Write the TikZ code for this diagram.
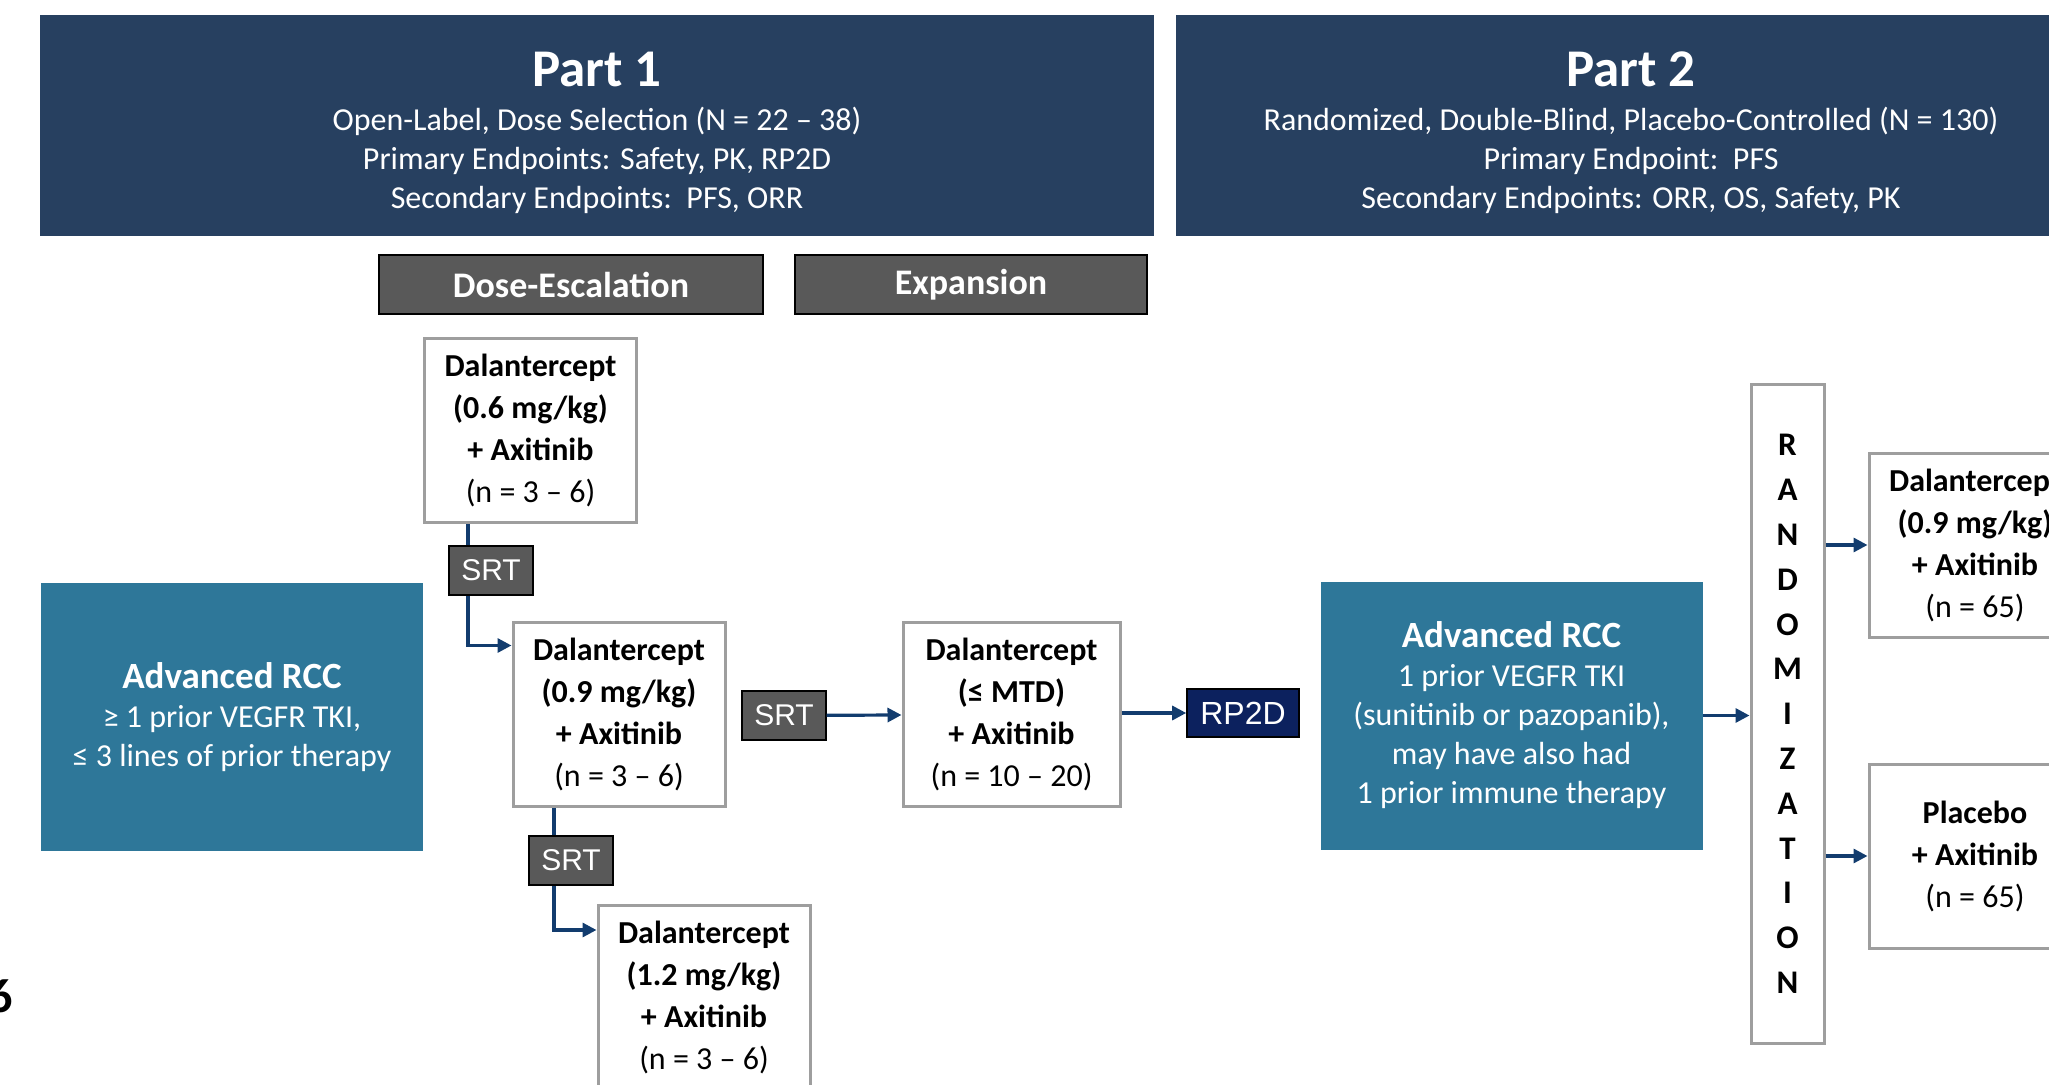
\documentclass[tikz,border=0pt]{standalone}
\usepackage{fontspec}
\setmainfont{Carlito}
\newfontfamily\arialfont{Liberation Sans}
\usetikzlibrary{positioning, arrows.meta, calc, backgrounds}

\definecolor{partblue}{HTML}{274060}
\definecolor{rccteal}{HTML}{2E7799}
\definecolor{srtgray}{HTML}{595959}
\definecolor{rpnavy}{HTML}{0C215E}
\definecolor{flowblue}{HTML}{123C6E}
\definecolor{boxgray}{HTML}{9E9E9E}

\begin{document}
\begin{tikzpicture}[x=0.5pt, y=-0.5pt,
  part/.style={fill=partblue, minimum height=110.5pt, inner sep=0pt},
  parttitle/.style={text=white, font=\fontsize{26.5}{31}\selectfont\bfseries},
  partsub/.style={text=white, align=center, font=\fontsize{16}{19.5}\selectfont},
  phase/.style={draw=black, line width=1pt, fill=srtgray, text=white, minimum height=29.5pt, inner sep=0pt, font=\fontsize{18}{22}\selectfont\bfseries},
  dosebox/.style={draw=boxgray, line width=1.5pt, fill=white, minimum width=106pt, minimum height=92pt, inner sep=0pt, align=center, font=\fontsize{16}{21}\selectfont},
  rccbox/.style={fill=rccteal, text=white, minimum width=191pt, minimum height=134pt, inner sep=0pt, align=center, font=\fontsize{16}{19.5}\selectfont},
  srt/.style={draw=black, line width=0.8pt, fill=srtgray, text=white, minimum width=41.75pt, minimum height=24.5pt, inner sep=0pt, font=\arialfont\fontsize{15}{18}\selectfont},
  flow/.style={draw=flowblue, line width=1.6pt, -{Triangle[length=7pt,width=7pt]}},
]
\useasboundingbox (0,0) rectangle (2049,1085);

% headers
\node[part, minimum width=557pt] (part1) at (597,125.5) {};
\node[parttitle] (p1title) at (597,69) {Part 1};
\node[partsub] (p1sub) at (597,160) {Open-Label, Dose Selection (N = 22 – 38)\\Primary Endpoints: Safety, PK, RP2D\\Secondary Endpoints:\ \ PFS, ORR};
\node[part, minimum width=455pt] (part2) at (1631,125.5) {};
\node[parttitle] (p2title) at (1631,69) {Part 2};
\node[partsub] (p2sub) at (1631,160) {Randomized, Double-Blind, Placebo-Controlled (N = 130)\\Primary Endpoint:\ \ PFS\\Secondary Endpoints: ORR, OS, Safety, PK};

\node[phase, minimum width=192pt] (escal) at (571,284.5) {Dose-Escalation};
\node[phase, minimum width=176pt] (expan) at (971,284.5) {Expansion};

% part 1
\node[rccbox] (rcc1) at (232,717) {{\fontsize{18.5}{22}\selectfont\bfseries Advanced RCC}\\≥ 1 prior VEGFR TKI,\\≤ 3 lines of prior therapy};
\node[dosebox] (dose1) at (530.5,430.5) {\textbf{Dalantercept}\\\textbf{(0.6 mg/kg)}\\\textbf{+ Axitinib}\\(n = 3 – 6)};
\node[dosebox] (dose2) at (619,714.5) {\textbf{Dalantercept}\\\textbf{(0.9 mg/kg)}\\\textbf{+ Axitinib}\\(n = 3 – 6)};
\node[dosebox] (dose3) at (704,997) {\textbf{Dalantercept}\\\textbf{(1.2 mg/kg)}\\\textbf{+ Axitinib}\\(n = 3 – 6)};
\node[dosebox, minimum width=108.5pt] (mtd) at (1011.5,714.5) {\textbf{Dalantercept}\\\textbf{(≤ MTD)}\\\textbf{+ Axitinib}\\(n = 10 – 20)};
\node[srt] (srt1) at (491,570.5) {SRT};
\node[srt] (srt2) at (571,860.5) {SRT};
\node[srt] (srt3) at (784,715.5) {SRT};
\node[srt, fill=rpnavy, minimum width=56pt, minimum height=24pt, font=\arialfont\fontsize{16}{19}\selectfont] (rp2d) at (1243,713) {RP2D};

% part 2
\node[rccbox] (rcc2) at (1511.5,715.5) {{\fontsize{18.5}{22}\selectfont\bfseries Advanced RCC}\\1 prior VEGFR TKI\\(sunitinib or pazopanib),\\may have also had\\1 prior immune therapy};
\node[dosebox, minimum width=36.5pt, minimum height=329pt, font=\fontsize{16.5}{22.4}\selectfont\bfseries] (rand) at (1787.5,714) {R\\A\\N\\D\\O\\M\\I\\Z\\A\\T\\I\\O\\N};
\node[dosebox] (arm1) at (1975,545) {\textbf{Dalantercept}\\\textbf{(0.9 mg/kg)}\\\textbf{+ Axitinib}\\(n = 65)};
\node[dosebox] (arm2) at (1975,856) {\textbf{Placebo}\\\textbf{+ Axitinib}\\(n = 65)};

\node[anchor=east, inner sep=0pt, font=\fontsize{24}{28}\selectfont\bfseries] (pagenum) at (13,996) {6};

% arrows
\begin{scope}[on background layer]
  \draw[flow] ([xshift=-31.25pt]dose1.south) |- ([yshift=34.5pt]dose2.west);
  \draw[flow] ([xshift=-32.5pt]dose2.south) |- ([yshift=33.5pt]dose3.west);
\end{scope}
\draw[flow] (srt3) -- (mtd);
\draw[flow] (mtd.east |- rp2d) -- (rp2d.west);
\draw[flow] (rcc2) -- (rcc2 -| rand.west);
\draw[flow] (rand.east |- arm1) -- (arm1.west);
\draw[flow] (rand.east |- arm2) -- (arm2.west);
\end{tikzpicture}
\end{document}
